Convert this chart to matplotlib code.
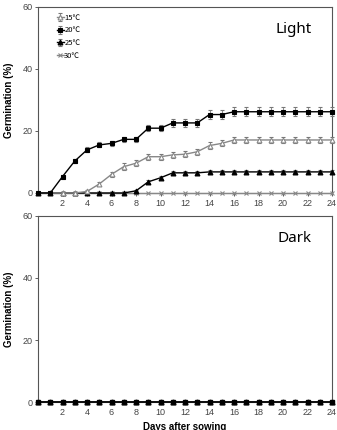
import numpy as np
import matplotlib
matplotlib.use('Agg')
import matplotlib.pyplot as plt

plt.rcParams['font.family'] = ['Liberation Sans', 'DejaVu Sans']

days = list(range(0, 25))
labels = ['15\u2103', '20\u2103', '25\u2103', '30\u2103']

# light condition
light_15 = [0, 0, 0, 0, 0.5, 2.9, 6.0, 8.5, 9.6, 11.7, 11.7, 12.3, 12.5, 13.3, 15.3, 16.0,
            17.1, 17.1, 17.1, 17.1, 17.1, 17.1, 17.1, 17.1, 17.1]
light_20 = [0, 0, 5.3, 10.3, 13.9, 15.5, 16.0, 17.3, 17.3, 20.9, 20.9, 22.6, 22.6, 22.6, 25.3, 25.3,
            26.2, 26.2, 26.2, 26.2, 26.2, 26.2, 26.2, 26.2, 26.2]
light_25 = [0, 0, 0, 0, 0, 0, 0, 0, 0.7, 3.6, 4.9, 6.5, 6.5, 6.5, 6.8, 6.8,
            6.8, 6.8, 6.8, 6.8, 6.8, 6.8, 6.8, 6.8, 6.8]
light_30 = [0] * 25
err_15 = [0, 0, 0, 0, 0.4, 0.6, 0.8, 1.2, 1.0, 1.0, 0.9, 0.9, 0.9, 0.9, 1.0, 1.0,
          1.0, 1.0, 1.0, 1.0, 1.0, 1.0, 1.0, 1.0, 1.0]
err_20 = [0, 0, 0.4, 0.6, 0.8, 0.8, 0.8, 0.9, 0.9, 1.0, 1.0, 1.3, 1.3, 1.3, 1.5, 1.5,
          1.5, 1.5, 1.5, 1.5, 1.5, 1.5, 1.5, 1.5, 1.5]
err_25 = [0, 0, 0, 0, 0, 0, 0, 0, 0.3, 0.5, 0.5, 0.6, 0.6, 0.6, 0.6, 0.6,
          0.6, 0.6, 0.6, 0.6, 0.6, 0.6, 0.6, 0.6, 0.6]

# dark condition
dark_15 = [0] * 25
dark_20 = [0] * 25
dark_25 = [0] * 25
dark_30 = [0] * 25

styles = [
    dict(marker='^', mfc='white', mec='#888888', color='#888888', ms=3.5),
    dict(marker='s', mfc='black', mec='black', color='black', ms=3.5),
    dict(marker='^', mfc='black', mec='black', color='black', ms=3.5),
    dict(marker='x', mfc='#888888', mec='#888888', color='#888888', ms=3),
]

fig = plt.figure(figsize=(3.37, 4.30), dpi=100)
ax1 = fig.add_axes([0.1128, 0.5512, 0.8724, 0.4326])
ax2 = fig.add_axes([0.1128, 0.0651, 0.8724, 0.4326])


def setup(ax, name):
    ax.set_xlim(0, 24)
    ax.set_ylim(0, 60)
    ax.set_xticks(range(2, 25, 2))
    ax.set_yticks([0, 20, 40, 60])
    ax.tick_params(labelsize=6.5, colors='#444444', length=2, width=0.6, pad=2)
    for s in ax.spines.values():
        s.set_color('#555555')
        s.set_linewidth(0.8)
    ax.set_ylabel('Germination (%)', fontsize=7, fontweight='bold', labelpad=6)
    ax.text(0.93, 0.88, name, transform=ax.transAxes, ha='right', va='center',
            fontsize=11, family=['Noto Sans', 'DejaVu Sans'])


light = [(light_15, err_15), (light_20, err_20), (light_25, err_25), (light_30, None)]
order = [3, 2, 0, 1]
handles = {}
for k, i in enumerate(order):
    y, e = light[i]
    st = styles[i]
    h = ax1.errorbar(days, y, yerr=e, lw=1, elinewidth=0.6, ecolor='#777777', capsize=1.5,
                     capthick=0.6, marker=st['marker'], mfc=st['mfc'], mec=st['mec'],
                     color=st['color'], ms=st['ms'], mew=0.8, clip_on=False, zorder=3 + k,
                     label=labels[i])
    handles[i] = h
setup(ax1, 'Light')
leg = ax1.legend([handles[i] for i in range(4)], labels, loc='upper left',
                 bbox_to_anchor=(0.04, 1.0), frameon=False,
                 handlelength=0.9, handletextpad=0.1, labelspacing=0.6,
                 prop={'family': ['Noto Sans CJK SC', 'DejaVu Sans'], 'size': 5.5})

dark = [dark_15, dark_20, dark_25, dark_30]
for k, i in enumerate(order):
    st = styles[i]
    ax2.plot(days, dark[i], lw=1.2, marker=st['marker'], mfc=st['mfc'], mec=st['mec'],
             color=st['color'], ms=st['ms'], clip_on=False, zorder=3 + k)
setup(ax2, 'Dark')
ax2.set_xlabel('Days after sowing', fontsize=7, fontweight='bold', labelpad=4)

fig.savefig('out.png', dpi=100)
